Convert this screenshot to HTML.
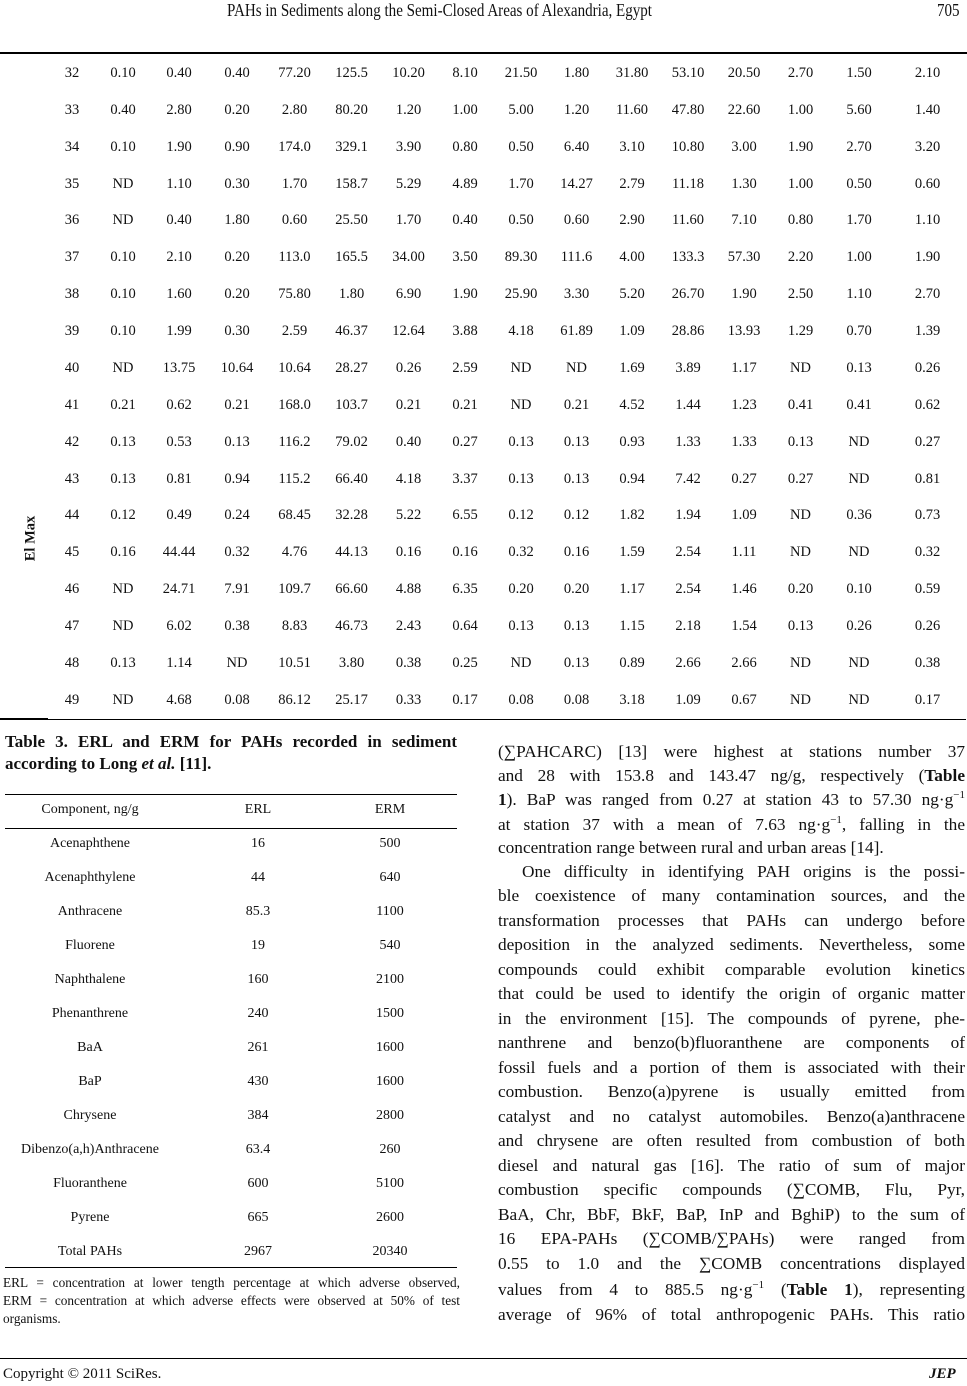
<!DOCTYPE html>
<html><head><meta charset="utf-8"><style>
body{margin:0;width:967px;height:1386px;background:#fff;position:relative;font-family:"Liberation Serif",serif;color:#111;overflow:hidden}
.a{position:absolute;white-space:nowrap}
table.t{position:absolute;left:48px;top:55px;border-collapse:collapse;font-size:14.5px;table-layout:fixed}
table.t td{height:36.88px;padding:0;text-align:center;vertical-align:middle;border-bottom:0}
table.t tr:last-child td{border-bottom:1.5px solid #000}
.hr{position:absolute;height:1.5px;background:#000}
.bt{position:absolute;left:498px;width:467px;font-size:17.3px;text-align:justify;text-align-last:justify;white-space:nowrap;height:22px;line-height:22px}
.c{position:absolute;white-space:nowrap;text-align:center}
.c1{left:0;width:170px}.c2{left:218px;width:70px}.c3{left:350px;width:70px}
sup{font-size:11px;line-height:0}
</style></head><body>
<div class="a" style="left:227px;top:0;font-size:17.5px;transform:scaleX(0.86);transform-origin:left top">PAHs in Sediments along the Semi-Closed Areas of Alexandria, Egypt</div>
<div class="a" style="left:937px;top:0;font-size:17.5px;transform:scaleX(0.86);transform-origin:left top">705</div>
<div class="hr" style="left:0;top:52px;width:967px"></div>
<div class="a" style="left:8px;top:530px;font-size:14.5px;font-weight:bold;transform:rotate(-90deg);transform-origin:center">El Max</div>
<table class="t">
<colgroup><col style="width:48px"><col style="width:54px"><col style="width:58px"><col style="width:58px"><col style="width:57px"><col style="width:57px"><col style="width:57px"><col style="width:56px"><col style="width:56px"><col style="width:55px"><col style="width:56px"><col style="width:56px"><col style="width:56px"><col style="width:57px"><col style="width:60px"><col style="width:77px"></colgroup>
<tr><td>32</td><td>0.10</td><td>0.40</td><td>0.40</td><td>77.20</td><td>125.5</td><td>10.20</td><td>8.10</td><td>21.50</td><td>1.80</td><td>31.80</td><td>53.10</td><td>20.50</td><td>2.70</td><td>1.50</td><td>2.10</td></tr>
<tr><td>33</td><td>0.40</td><td>2.80</td><td>0.20</td><td>2.80</td><td>80.20</td><td>1.20</td><td>1.00</td><td>5.00</td><td>1.20</td><td>11.60</td><td>47.80</td><td>22.60</td><td>1.00</td><td>5.60</td><td>1.40</td></tr>
<tr><td>34</td><td>0.10</td><td>1.90</td><td>0.90</td><td>174.0</td><td>329.1</td><td>3.90</td><td>0.80</td><td>0.50</td><td>6.40</td><td>3.10</td><td>10.80</td><td>3.00</td><td>1.90</td><td>2.70</td><td>3.20</td></tr>
<tr><td>35</td><td>ND</td><td>1.10</td><td>0.30</td><td>1.70</td><td>158.7</td><td>5.29</td><td>4.89</td><td>1.70</td><td>14.27</td><td>2.79</td><td>11.18</td><td>1.30</td><td>1.00</td><td>0.50</td><td>0.60</td></tr>
<tr><td>36</td><td>ND</td><td>0.40</td><td>1.80</td><td>0.60</td><td>25.50</td><td>1.70</td><td>0.40</td><td>0.50</td><td>0.60</td><td>2.90</td><td>11.60</td><td>7.10</td><td>0.80</td><td>1.70</td><td>1.10</td></tr>
<tr><td>37</td><td>0.10</td><td>2.10</td><td>0.20</td><td>113.0</td><td>165.5</td><td>34.00</td><td>3.50</td><td>89.30</td><td>111.6</td><td>4.00</td><td>133.3</td><td>57.30</td><td>2.20</td><td>1.00</td><td>1.90</td></tr>
<tr><td>38</td><td>0.10</td><td>1.60</td><td>0.20</td><td>75.80</td><td>1.80</td><td>6.90</td><td>1.90</td><td>25.90</td><td>3.30</td><td>5.20</td><td>26.70</td><td>1.90</td><td>2.50</td><td>1.10</td><td>2.70</td></tr>
<tr><td>39</td><td>0.10</td><td>1.99</td><td>0.30</td><td>2.59</td><td>46.37</td><td>12.64</td><td>3.88</td><td>4.18</td><td>61.89</td><td>1.09</td><td>28.86</td><td>13.93</td><td>1.29</td><td>0.70</td><td>1.39</td></tr>
<tr><td>40</td><td>ND</td><td>13.75</td><td>10.64</td><td>10.64</td><td>28.27</td><td>0.26</td><td>2.59</td><td>ND</td><td>ND</td><td>1.69</td><td>3.89</td><td>1.17</td><td>ND</td><td>0.13</td><td>0.26</td></tr>
<tr><td>41</td><td>0.21</td><td>0.62</td><td>0.21</td><td>168.0</td><td>103.7</td><td>0.21</td><td>0.21</td><td>ND</td><td>0.21</td><td>4.52</td><td>1.44</td><td>1.23</td><td>0.41</td><td>0.41</td><td>0.62</td></tr>
<tr><td>42</td><td>0.13</td><td>0.53</td><td>0.13</td><td>116.2</td><td>79.02</td><td>0.40</td><td>0.27</td><td>0.13</td><td>0.13</td><td>0.93</td><td>1.33</td><td>1.33</td><td>0.13</td><td>ND</td><td>0.27</td></tr>
<tr><td>43</td><td>0.13</td><td>0.81</td><td>0.94</td><td>115.2</td><td>66.40</td><td>4.18</td><td>3.37</td><td>0.13</td><td>0.13</td><td>0.94</td><td>7.42</td><td>0.27</td><td>0.27</td><td>ND</td><td>0.81</td></tr>
<tr><td>44</td><td>0.12</td><td>0.49</td><td>0.24</td><td>68.45</td><td>32.28</td><td>5.22</td><td>6.55</td><td>0.12</td><td>0.12</td><td>1.82</td><td>1.94</td><td>1.09</td><td>ND</td><td>0.36</td><td>0.73</td></tr>
<tr><td>45</td><td>0.16</td><td>44.44</td><td>0.32</td><td>4.76</td><td>44.13</td><td>0.16</td><td>0.16</td><td>0.32</td><td>0.16</td><td>1.59</td><td>2.54</td><td>1.11</td><td>ND</td><td>ND</td><td>0.32</td></tr>
<tr><td>46</td><td>ND</td><td>24.71</td><td>7.91</td><td>109.7</td><td>66.60</td><td>4.88</td><td>6.35</td><td>0.20</td><td>0.20</td><td>1.17</td><td>2.54</td><td>1.46</td><td>0.20</td><td>0.10</td><td>0.59</td></tr>
<tr><td>47</td><td>ND</td><td>6.02</td><td>0.38</td><td>8.83</td><td>46.73</td><td>2.43</td><td>0.64</td><td>0.13</td><td>0.13</td><td>1.15</td><td>2.18</td><td>1.54</td><td>0.13</td><td>0.26</td><td>0.26</td></tr>
<tr><td>48</td><td>0.13</td><td>1.14</td><td>ND</td><td>10.51</td><td>3.80</td><td>0.38</td><td>0.25</td><td>ND</td><td>0.13</td><td>0.89</td><td>2.66</td><td>2.66</td><td>ND</td><td>ND</td><td>0.38</td></tr>
<tr><td>49</td><td>ND</td><td>4.68</td><td>0.08</td><td>86.12</td><td>25.17</td><td>0.33</td><td>0.17</td><td>0.08</td><td>0.08</td><td>3.18</td><td>1.09</td><td>0.67</td><td>ND</td><td>ND</td><td>0.17</td></tr>
</table>
<div class="hr" style="left:0;top:718px;width:48px"></div>

<div class="a" style="left:5px;top:732px;width:452px;font-size:17px;font-weight:bold;text-align:justify;text-align-last:justify;white-space:nowrap">Table 3. ERL and ERM for PAHs recorded in sediment</div>
<div class="a" style="left:5px;top:754px;font-size:17px;font-weight:bold">according to Long <i>et al.</i> [11].</div>
<div class="hr" style="left:5px;top:794px;width:452px;height:1px"></div>
<div class="hr" style="left:5px;top:828px;width:452px;height:1px"></div>
<div style="position:absolute;left:5px;top:802px;font-size:14px">
<div class="c c1" style="top:0">Component, ng/g</div>
<div class="c c2" style="top:0">ERL</div>
<div class="c c3" style="top:0">ERM</div>
</div>
<div style="position:absolute;left:5px;top:836px;font-size:14px;width:452px">
<div class="c c1" style="top:0">Acenaphthene</div><div class="c c2" style="top:0">16</div><div class="c c3" style="top:0">500</div>
<div class="c c1" style="top:34px">Acenaphthylene</div><div class="c c2" style="top:34px">44</div><div class="c c3" style="top:34px">640</div>
<div class="c c1" style="top:68px">Anthracene</div><div class="c c2" style="top:68px">85.3</div><div class="c c3" style="top:68px">1100</div>
<div class="c c1" style="top:102px">Fluorene</div><div class="c c2" style="top:102px">19</div><div class="c c3" style="top:102px">540</div>
<div class="c c1" style="top:136px">Naphthalene</div><div class="c c2" style="top:136px">160</div><div class="c c3" style="top:136px">2100</div>
<div class="c c1" style="top:170px">Phenanthrene</div><div class="c c2" style="top:170px">240</div><div class="c c3" style="top:170px">1500</div>
<div class="c c1" style="top:204px">BaA</div><div class="c c2" style="top:204px">261</div><div class="c c3" style="top:204px">1600</div>
<div class="c c1" style="top:238px">BaP</div><div class="c c2" style="top:238px">430</div><div class="c c3" style="top:238px">1600</div>
<div class="c c1" style="top:272px">Chrysene</div><div class="c c2" style="top:272px">384</div><div class="c c3" style="top:272px">2800</div>
<div class="c c1" style="top:306px">Dibenzo(a,h)Anthracene</div><div class="c c2" style="top:306px">63.4</div><div class="c c3" style="top:306px">260</div>
<div class="c c1" style="top:340px">Fluoranthene</div><div class="c c2" style="top:340px">600</div><div class="c c3" style="top:340px">5100</div>
<div class="c c1" style="top:374px">Pyrene</div><div class="c c2" style="top:374px">665</div><div class="c c3" style="top:374px">2600</div>
<div class="c c1" style="top:408px">Total PAHs</div><div class="c c2" style="top:408px">2967</div><div class="c c3" style="top:408px">20340</div>
</div>
<div class="hr" style="left:5px;top:1267px;width:452px;height:1px"></div>
<div class="a" style="left:3px;top:1275px;width:457px;font-size:13.3px;text-align:justify;text-align-last:justify">ERL = concentration at lower tength percentage at which adverse observed,</div>
<div class="a" style="left:3px;top:1293px;width:457px;font-size:13.3px;text-align:justify;text-align-last:justify">ERM = concentration at which adverse effects were observed at 50% of test</div>
<div class="a" style="left:3px;top:1311px;font-size:13.3px">organisms.</div>

<div class="bt" style="top:741px">(∑PAHCARC) [13] were highest at stations number 37</div>
<div class="bt" style="top:765px">and 28 with 153.8 and 143.47 ng/g, respectively (<b>Table</b></div>
<div class="bt" style="top:789px"><b>1</b>). BaP was ranged from 0.27 at station 43 to 57.30 ng·g<sup>−1</sup></div>
<div class="bt" style="top:814px">at station 37 with a mean of 7.63 ng·g<sup>−1</sup>, falling in the</div>
<div class="bt" style="top:837px;text-align-last:left">concentration range between rural and urban areas [14].</div>
<div class="bt" style="top:861px;left:522px;width:443px">One difficulty in identifying PAH origins is the possi-</div>
<div class="bt" style="top:885px">ble coexistence of many contamination sources, and the</div>
<div class="bt" style="top:910px">transformation processes that PAHs can undergo before</div>
<div class="bt" style="top:934px">deposition in the analyzed sediments. Nevertheless, some</div>
<div class="bt" style="top:959px">compounds could exhibit comparable evolution kinetics</div>
<div class="bt" style="top:983px">that could be used to identify the origin of organic matter</div>
<div class="bt" style="top:1008px">in the environment [15]. The compounds of pyrene, phe-</div>
<div class="bt" style="top:1032px">nanthrene and benzo(b)fluoranthene are components of</div>
<div class="bt" style="top:1057px">fossil fuels and a portion of them is associated with their</div>
<div class="bt" style="top:1081px">combustion. Benzo(a)pyrene is usually emitted from</div>
<div class="bt" style="top:1106px">catalyst and no catalyst automobiles. Benzo(a)anthracene</div>
<div class="bt" style="top:1130px">and chrysene are often resulted from combustion of both</div>
<div class="bt" style="top:1155px">diesel and natural gas [16]. The ratio of sum of major</div>
<div class="bt" style="top:1179px">combustion specific compounds (∑COMB, Flu, Pyr,</div>
<div class="bt" style="top:1204px">BaA, Chr, BbF, BkF, BaP, InP and BghiP) to the sum of</div>
<div class="bt" style="top:1228px">16 EPA-PAHs (∑COMB/∑PAHs) were ranged from</div>
<div class="bt" style="top:1253px">0.55 to 1.0 and the ∑COMB concentrations displayed</div>
<div class="bt" style="top:1279px">values from 4 to 885.5 ng·g<sup>−1</sup> (<b>Table 1</b>), representing</div>
<div class="bt" style="top:1304px">average of 96% of total anthropogenic PAHs. This ratio</div>

<div class="hr" style="left:0;top:1358px;width:967px;height:1px"></div>
<div class="a" style="left:3px;top:1366px;font-size:15px">Copyright © 2011 SciRes.</div>
<div class="a" style="left:929px;top:1366px;font-size:15px;font-weight:bold;font-style:italic">JEP</div>
</body></html>
